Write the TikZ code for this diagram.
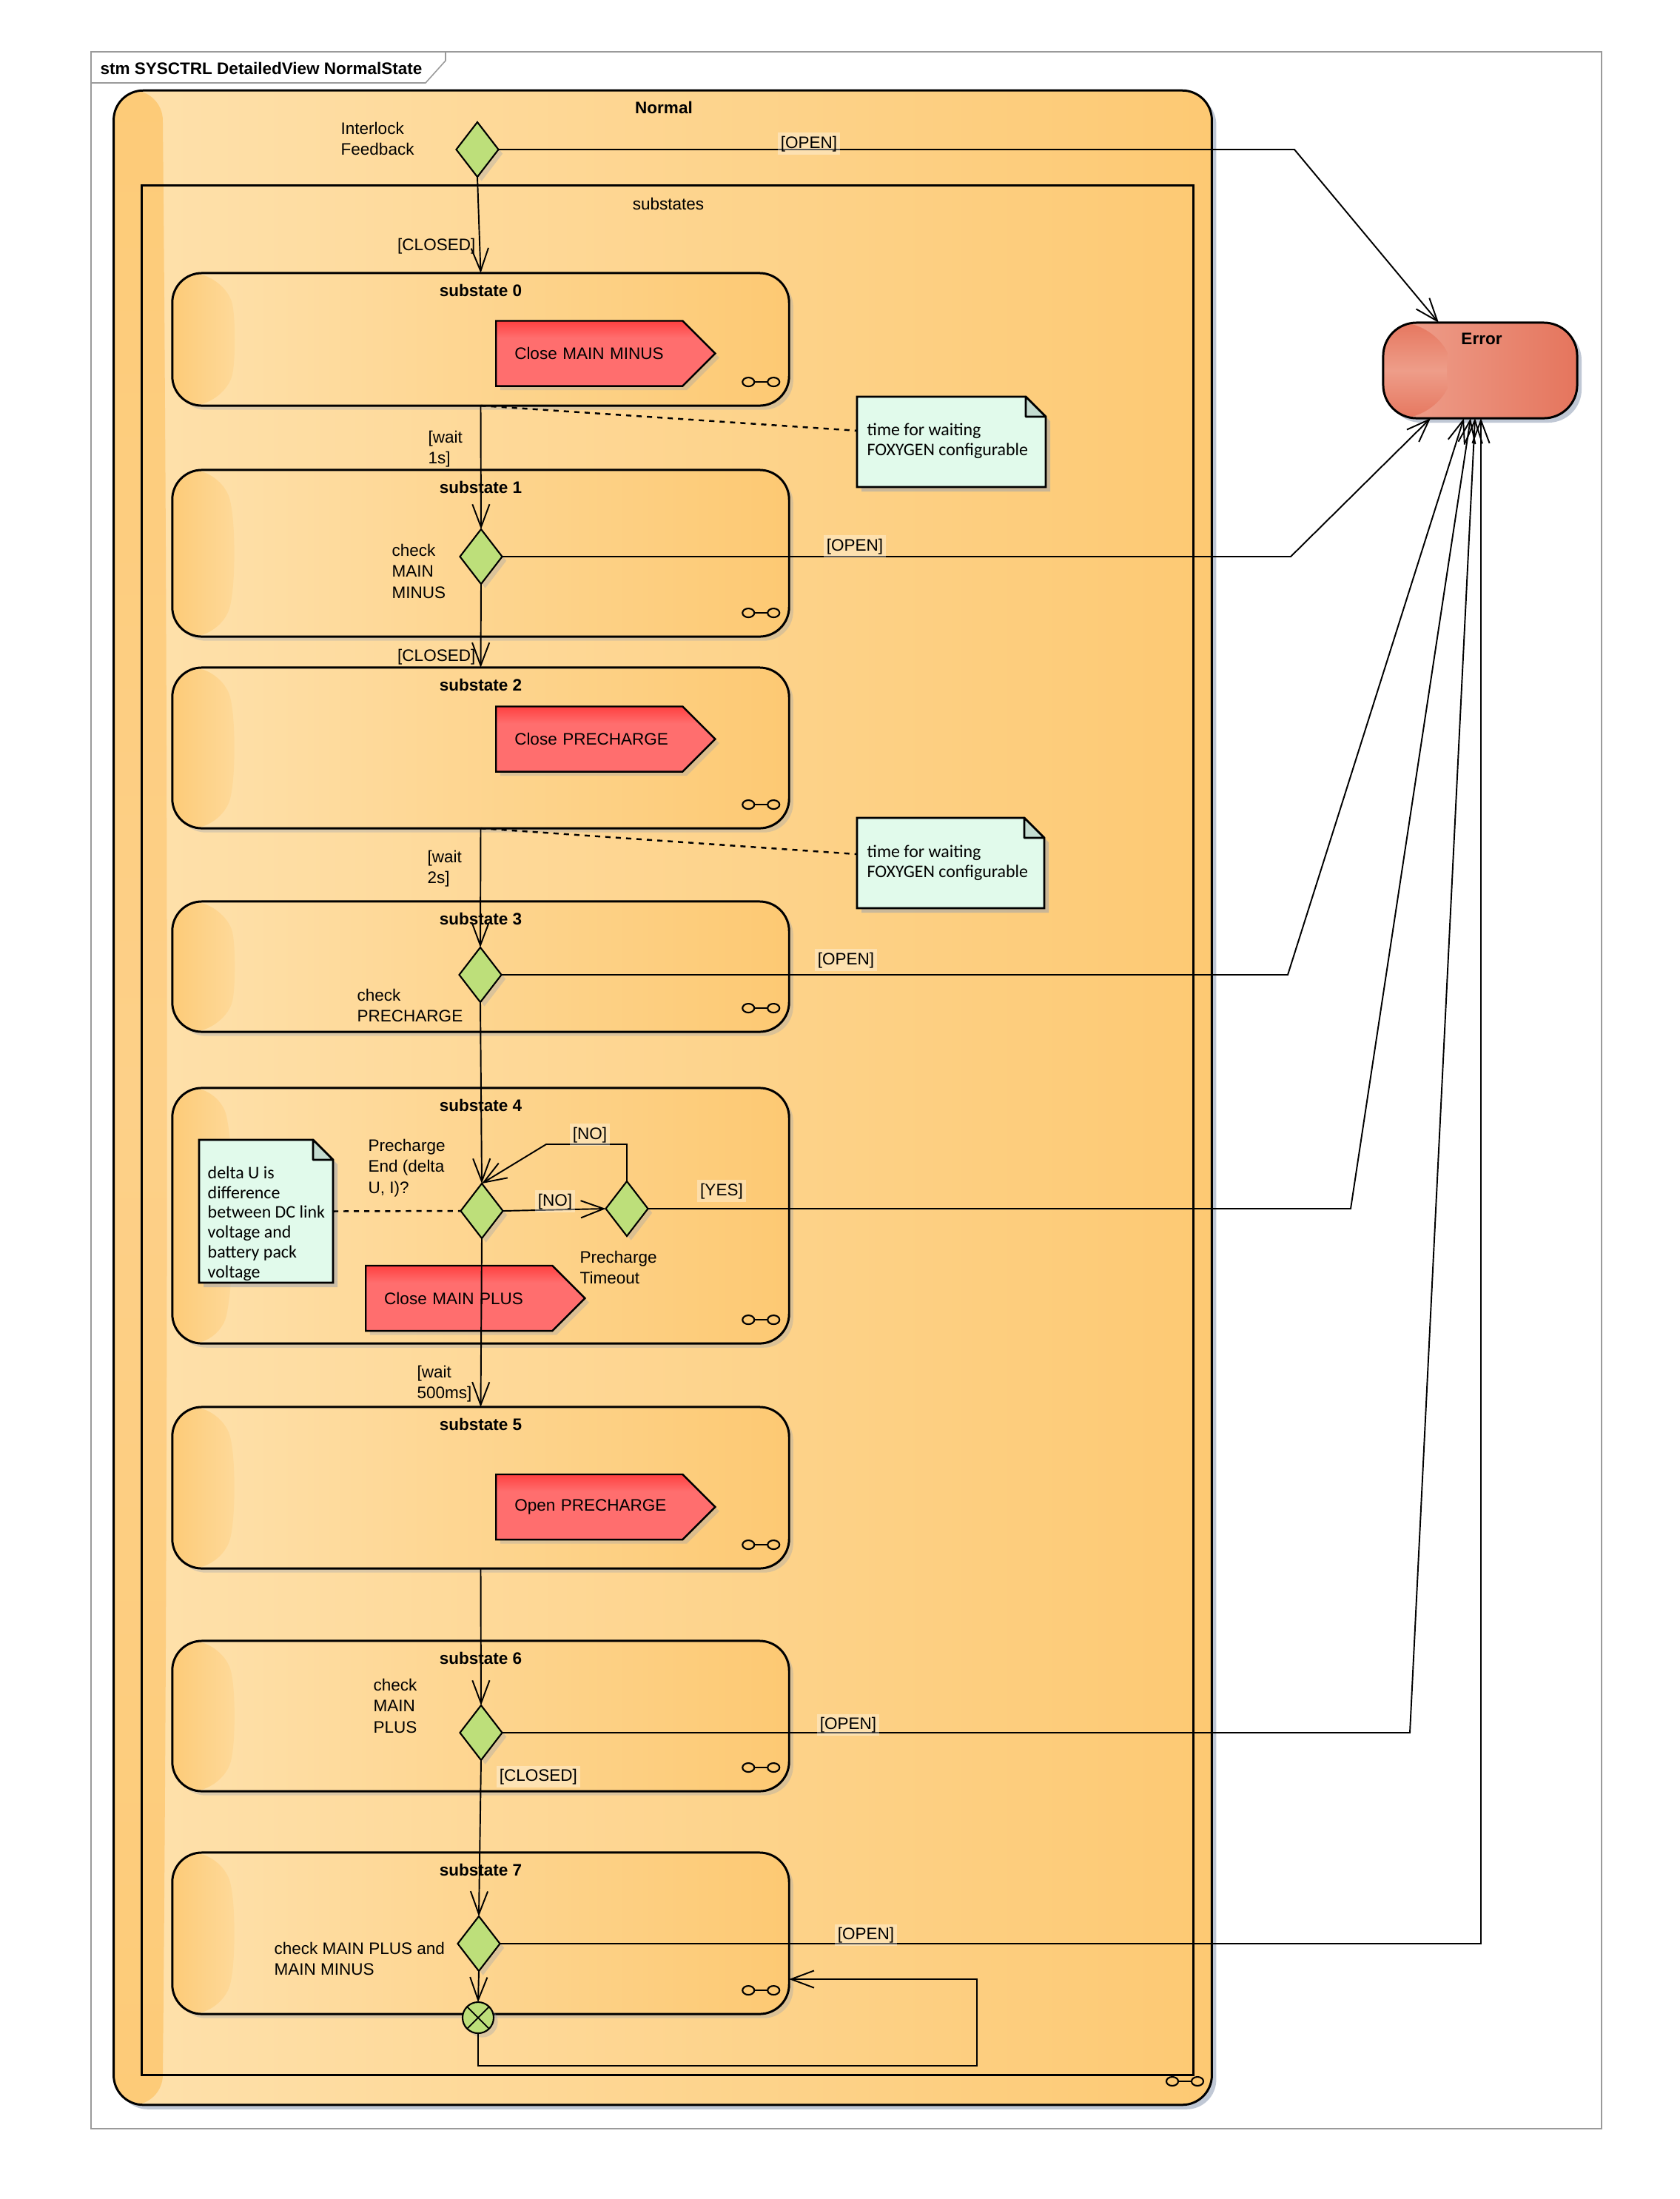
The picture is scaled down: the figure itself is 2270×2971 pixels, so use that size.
\documentclass[tikz,border=0pt]{standalone}
\usepackage{fontspec}
\setmainfont{Liberation Sans}
\newfontfamily\notefont{Carlito}
\usetikzlibrary{shapes.geometric,shapes.symbols,arrows.meta,calc,shadows}

\definecolor{framegray}{HTML}{9A9A9A}
\definecolor{stlight}{HTML}{FEE1AC}
\definecolor{stdark}{HTML}{FDC973}
\definecolor{stripedge}{HTML}{FDCB78}
\definecolor{stripmid}{HTML}{FEDEA5}
\definecolor{outerstripmid}{HTML}{FDD088}
\definecolor{errlight}{HTML}{EFA390}
\definecolor{errdark}{HTML}{E5755D}
\definecolor{errstripedge}{HTML}{E6775F}
\definecolor{errstripmid}{HTML}{EE9D89}
\definecolor{decgreen}{HTML}{BDDF7A}
\definecolor{sighi}{HTML}{FF4040}
\definecolor{siglo}{HTML}{FF6E6E}
\definecolor{notefill}{HTML}{E1FAEB}
\definecolor{notefold}{HTML}{C4DCD0}
\definecolor{shadowtint}{HTML}{8E9BB4}

% red action boxes: darker band along the top edge
\pgfdeclareverticalshading{sigshade}{100bp}{color(0bp)=(siglo); color(62bp)=(siglo); color(75bp)=(sighi); color(100bp)=(sighi)}
% gloss strip of the substates: dark rim at the top, light just below, darkening downwards
\pgfdeclareverticalshading{substrip}{100bp}{color(0bp)=(stripedge); color(25bp)=(stripedge); color(68bp)=(stripmid); color(75bp)=(stripedge); color(100bp)=(stripedge)}

% dog-eared note: name, x1, y1, x2, y2, text x, text y, text
\newcommand\notebox[8]{%
  \fill[shadowtint, opacity=0.45] ({#2+6},{#3+6}) -- ({#4-21},{#3+6}) -- ({#4+6},{#3+33}) -- ({#4+6},{#5+6}) -- ({#2+6},{#5+6}) -- cycle;
  \filldraw[fill=notefill, line width=0.75pt] (#2,#3) -- ({#4-27},#3) -- (#4,{#3+27}) -- (#4,#5) -- (#2,#5) -- cycle;
  \filldraw[fill=notefold, line width=0.75pt, line join=round] ({#4-27},#3) -- ({#4-27},{#3+27}) -- (#4,{#3+27}) -- cycle;
  \node[inner sep=0pt, outer sep=0pt, minimum width={(#4-#2)*0.01cm}, minimum height={(#5-#3)*0.01cm}] (#1) at ({(#2+#4)/2},{(#3+#5)/2}) {};
  \node[notetext, anchor=west] (#1t) at (#6,#7) {#8};
}

\tikzset{
  lbl/.style={font=\fontsize{6.4}{8.1}\selectfont, inner sep=0pt},
  ttl/.style={font=\fontsize{6.4}{8.1}\selectfont\bfseries, inner sep=0pt},
  lblbg/.style={fill=white, fill opacity=0.35, text opacity=1, inner sep=1.2pt},
  notetext/.style={font=\notefont\fontsize{6.8}{7.6}\selectfont, align=left, inner sep=0pt},
  outshadow/.style={general shadow={fill=shadowtint, opacity=0.55, shadow xshift=1.7pt, shadow yshift=-1.7pt}},
  inshadow/.style={general shadow={fill=shadowtint, opacity=0.3, shadow xshift=1.6pt, shadow yshift=-1.6pt}},
  glossstrip/.style n args={3}{path picture={
    \path[#1]
      (path picture bounding box.north west) -- ++(#2,0)
      .. controls ($(path picture bounding box.north west)!0.3!(path picture bounding box.south west)+(#3,0)$)
      and ($(path picture bounding box.north west)!0.7!(path picture bounding box.south west)+(#3,0)$)
      .. ($(path picture bounding box.south west)+(#2,0)$)
      -- (path picture bounding box.south west) -- cycle;
  }},
  outerbox/.style={draw, line width=0.85pt, rounded corners=0.4cm, inner sep=0pt, outer sep=0pt,
    left color=stlight, right color=stdark, outshadow,
    glossstrip={top color=stripedge, bottom color=stripedge, middle color=outerstripmid}{66}{74}},
  regionbox/.style={draw, line width=0.8pt, inner sep=0pt, outer sep=0pt},
  substatebox/.style={draw, line width=0.85pt, rounded corners=0.4cm, inner sep=0pt, outer sep=0pt,
    minimum width=8.33cm, left color=stlight, right color=stdark, inshadow,
    glossstrip={shading=substrip}{66}{86}},
  errbox/.style={draw, line width=0.85pt, rounded corners=0.45cm, inner sep=0pt, outer sep=0pt,
    left color=errlight, right color=errdark, outshadow,
    glossstrip={top color=errstripedge, bottom color=errstripedge, middle color=errstripmid}{69}{86}},
  decbox/.style={diamond, draw, line width=0.6pt, fill=decgreen, inner sep=0pt, outer sep=0pt,
    minimum width=0.57cm, minimum height=0.74cm, inshadow},
  junc/.style={circle, draw, line width=0.6pt, fill=decgreen, inner sep=0pt, outer sep=0pt,
    minimum size=0.42cm, inshadow, path picture={
      \draw[line width=0.5pt] (path picture bounding box.north west) -- (path picture bounding box.south east)
        (path picture bounding box.north east) -- (path picture bounding box.south west);}},
  sigbox/.style={signal, signal to=east, signal pointer angle=90, draw, line width=0.7pt,
    shading=sigshade, inner xsep=0.16cm, inner ysep=0pt, text width=2.2cm, align=left,
    minimum height=0.88cm, font=\fontsize{6.4}{8.1}\selectfont, inshadow,
    execute at begin node={\hspace*{0.09cm}}},
  conn/.style={line width=0.55pt},
  arr/.style={conn, -{Straight Barb[length=8.8pt,width=6.6pt]}},
  dotlink/.style={line width=0.7pt, dash pattern=on 2pt off 2pt},
  compicon/.pic={
    \draw[line width=0.6pt] (-17,0) ellipse [x radius=0.08cm, y radius=0.06cm];
    \draw[line width=0.6pt] (17,0) ellipse [x radius=0.08cm, y radius=0.06cm];
    \draw[line width=0.6pt] (-9,0) -- (9,0);
  },
}

\begin{document}
\begin{tikzpicture}[x=0.01cm, y=-0.01cm]
\useasboundingbox (0,0) rectangle (2270,2971);
\fill[white] (0,0) rectangle (2270,2971);

% diagram frame with its name tab
\draw[framegray, line width=0.45pt] (123,70) rectangle (2164,2876);
\draw[framegray, line width=0.45pt] (123,112) -- (575,112) -- (602,82) -- (602,70);
\node[ttl, anchor=base west] (hdr) at (135,100) {stm SYSCTRL DetailedView NormalState};

% composite state Normal and its region
\node[outerbox, minimum width=14.83cm, minimum height=27.2cm] (normal) at (895.5,1483) {};
\node[ttl, anchor=base] (tNormal) at (897,153) {Normal};
\node[regionbox, minimum width=14.2cm, minimum height=25.52cm] (sub) at (902,1527) {};
\node[lbl, anchor=base] (tSub) at (903,283) {substates};
\pic at (1601,2812) {compicon};

% Error state
\node[errbox, minimum width=2.62cm, minimum height=1.29cm] (err) at (2000,500.5) {};
\node[ttl, anchor=base] (tErr) at (2002,465) {Error};

% substates 0..7
\foreach \n/\yc/\h in {0/458.5/1.79, 1/747.5/2.25, 2/1010.5/2.17, 3/1306/1.76, 4/1642.5/3.45, 5/2010/2.18, 6/2318.5/2.03, 7/2612/2.18} {
  \node[substatebox, minimum height=\h cm] (s\n) at (649.5,\yc) {};
  \node[ttl, anchor=base] (t\n) at ($(s\n.north)+(0,32)$) {substate \n};
  \pic at ($(s\n.south east)+(-38,-32)$) {compicon};
}

% entry actions
\node[sigbox, anchor=west] (a0) at (669,477.5) {Close MAIN MINUS};
\node[sigbox, anchor=west] (a2) at (669,998.5) {Close PRECHARGE};
\node[sigbox, anchor=west] (a4) at (493,1754) {Close MAIN PLUS};
\node[sigbox, anchor=west] (a5) at (669,2036) {Open PRECHARGE};

% notes
\notebox{n1}{1158}{536}{1413}{658}{1171}{596}{time for waiting\\FOXYGEN configurable}
\notebox{n2}{1158}{1105}{1411}{1227}{1171}{1166}{time for waiting\\FOXYGEN configurable}
\notebox{n3}{269}{1540}{450}{1733}{280}{1653}{delta U is\\difference\\between DC link\\voltage and\\battery pack\\voltage}

% choice points and junction
\node[decbox] (dIL) at (645,202) {};
\node[decbox] (d1) at (650,752) {};
\node[decbox] (d3) at (649,1317) {};
\node[decbox] (d4a) at (651,1636) {};
\node[decbox] (d4b) at (847,1633) {};
\node[decbox] (d6) at (650,2341) {};
\node[decbox] (d7) at (647,2626) {};
\node[junc] (jn) at (646,2726) {};

% bend points
\coordinate (bIL) at (1749,202);
\coordinate (b1) at (1744,752);
\coordinate (b3) at (1740,1317);
\coordinate (b4) at (1825,1633);
\coordinate (b6) at (1905,2341);
\coordinate (b7) at (2001,2626);
\coordinate (noB) at (738,1546);
\coordinate (loopB) at (1320,2791);
\coordinate (loopT) at (1320,2674);
\coordinate (eIL) at ($(err.north)+(-56,0)$);
\coordinate (e1) at ($(err.south)+(-67,0)$);
\coordinate (e3) at ($(err.south)+(-22,0)$);
\coordinate (e4) at ($(err.south)+(-13,0)$);
\coordinate (e6) at ($(err.south)+(-7,0)$);
\coordinate (e7) at ($(err.south)+(1,0)$);

% note links
\draw[dotlink] (s0.south) -- ([yshift=4.3pt]n1.west);
\draw[dotlink] (s2.south) -- ([yshift=3.4pt]n2.west);
\draw[dotlink] (n3.east) -- (d4a.west);

% main sequence
\draw[arr] (dIL.south) -- (s0.north);
\draw[arr] (s0.south) -- (d1.north);
\draw[arr] (d1.south) -- (s2.north);
\draw[arr] (s2.south) -- (d3.north);
\draw[arr] (d3.south) -- (d4a.north);
\draw[arr] (d4a.east) -- (d4b.west);
\draw[arr] (d4b.north) |- (noB) -- (d4a.north);
\draw[arr] (d4a.south) -- (s5.north);
\draw[arr] (s5.south) -- (d6.north);
\draw[arr] (d6.south) -- (d7.north);
\draw[arr] (d7.south) -- (jn.north);
\draw[arr] (jn.south) |- (loopB) -- (loopT) -- (s7.east |- loopT);

% transitions to Error
\draw[arr] (dIL.east) -- (bIL) -- (eIL);
\draw[arr] (d1.east) -- (b1) -- (e1);
\draw[arr] (d3.east) -- (b3) -- (e3);
\draw[arr] (d4b.east) -- (b4) -- (e4);
\draw[arr] (d6.east) -- (b6) -- (e6);
\draw[arr] (d7.east) -- (b7) -- (e7);

% labels
\node[lbl, anchor=north west, align=left] (lIL) at (460,164) {Interlock\\Feedback};
\node[lbl, lblbg, anchor=base] (lILo) at (1093,200) {[OPEN]};
\node[lbl, anchor=base east] (lc0) at (643,338) {[CLOSED]};
\node[lbl, anchor=north west, align=left] (lw1) at (578,581) {[wait\\1s]};
\node[lbl, anchor=north west, align=left] (lchk1) at (529,734) {check\\MAIN\\MINUS};
\node[lbl, lblbg, anchor=base] (lo1) at (1155,744) {[OPEN]};
\node[lbl, anchor=base east] (lc1) at (643,893) {[CLOSED]};
\node[lbl, anchor=north west, align=left] (lw2) at (577,1148) {[wait\\2s]};
\node[lbl, anchor=north west, align=left] (lchk3) at (482,1335) {check\\PRECHARGE};
\node[lbl, lblbg, anchor=base] (lo3) at (1143,1303) {[OPEN]};
\node[lbl, anchor=north west, align=left] (lpe) at (497,1538) {Precharge\\End (delta\\U, I)?};
\node[lbl, lblbg, anchor=base] (lno1) at (797,1539) {[NO]};
\node[lbl, lblbg, anchor=base] (lno2) at (750,1629) {[NO]};
\node[lbl, lblbg, anchor=base] (lyes) at (975,1615) {[YES]};
\node[lbl, anchor=north west, align=left] (lpt) at (783,1689) {Precharge\\Timeout};
\node[lbl, anchor=north west, align=left] (lw5) at (563,1844) {[wait\\500ms]};
\node[lbl, anchor=north west, align=left] (lchk6) at (504,2267) {check\\MAIN\\PLUS};
\node[lbl, lblbg, anchor=base] (lo6) at (1146,2336) {[OPEN]};
\node[lbl, lblbg, anchor=base west] (lc6) at (670,2406) {[CLOSED]};
\node[lbl, anchor=north west, align=left] (lchk7) at (370,2623) {check MAIN PLUS and\\MAIN MINUS};
\node[lbl, lblbg, anchor=base] (lo7) at (1170,2620) {[OPEN]};
\end{tikzpicture}
\end{document}
